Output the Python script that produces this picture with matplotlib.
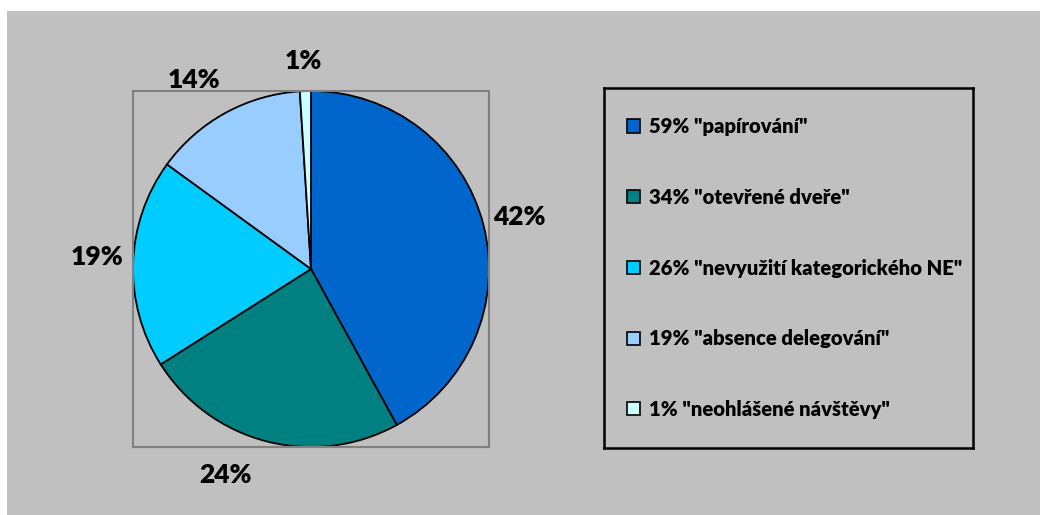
import matplotlib.pyplot as plt
from matplotlib.patches import Rectangle, Patch

plt.rcParams['font.family'] = ['Lato', 'DejaVu Sans']

shares = [42, 24, 19, 14, 1]
legend_labels = [
    '59% "papírování"',
    '34% "otevřené dveře"',
    '26% "nevyužití kategorického NE"',
    '19% "absence delegování"',
    '1% "neohlášené návštěvy"',
]
colors = ['#0066CC', '#008080', '#00CCFF', '#99CCFF', '#CCFFFF']
# where each percentage label sits, in pie-radius units
label_xy = [(1.17, 0.29), (-0.48, -1.16), (-1.20, 0.07), (-0.66, 1.06), (-0.04, 1.17)]

W, H = 1040, 515
fig = plt.figure(figsize=(W / 100, H / 100), dpi=100, facecolor='white')
fig.patches.append(Rectangle((7 / W, 0), 1 - 7 / W, (H - 11) / H,
                             transform=fig.transFigure, facecolor='#C0C0C0',
                             edgecolor='none', zorder=-1))

# pie plot area
ax = fig.add_axes([133 / W, (H - 447) / H, 356 / W, 356 / H])
ax.set_facecolor('none')
wedges, texts, autotexts = ax.pie(
    shares, colors=colors, startangle=90, counterclock=False, radius=1,
    autopct='%d%%', wedgeprops=dict(edgecolor='black', linewidth=1.3),
    textprops=dict(fontsize=19, fontweight='heavy', color='black'))
for t, (x, y) in zip(autotexts, label_xy):
    t.set_position((x, y))
    t.set_clip_on(False)
ax.set_xlim(-1, 1)
ax.set_ylim(-1, 1)
ax.set_aspect('auto')
ax.set_frame_on(True)
ax.set_xticks([])
ax.set_yticks([])
for s in ax.spines.values():
    s.set_color('#808080')
    s.set_linewidth(1.5)

# legend box
lax = fig.add_axes([604 / W, (H - 448) / H, 369 / W, 360 / H])
lax.set_facecolor('none')
lax.set_xticks([])
lax.set_yticks([])
for s in lax.spines.values():
    s.set_color('black')
    s.set_linewidth(1.8)
handles = [Patch(facecolor=c, edgecolor='black', linewidth=1.2) for c in colors]
lax.legend(handles, legend_labels, loc='center left', bbox_to_anchor=(0.035, 0.5),
           frameon=False, prop=dict(size=14.6, weight='heavy'),
           handlelength=0.62, handleheight=0.62, handletextpad=0.45,
           labelspacing=2.55, borderpad=0)

fig.savefig('out.png', dpi=100, facecolor='white')
